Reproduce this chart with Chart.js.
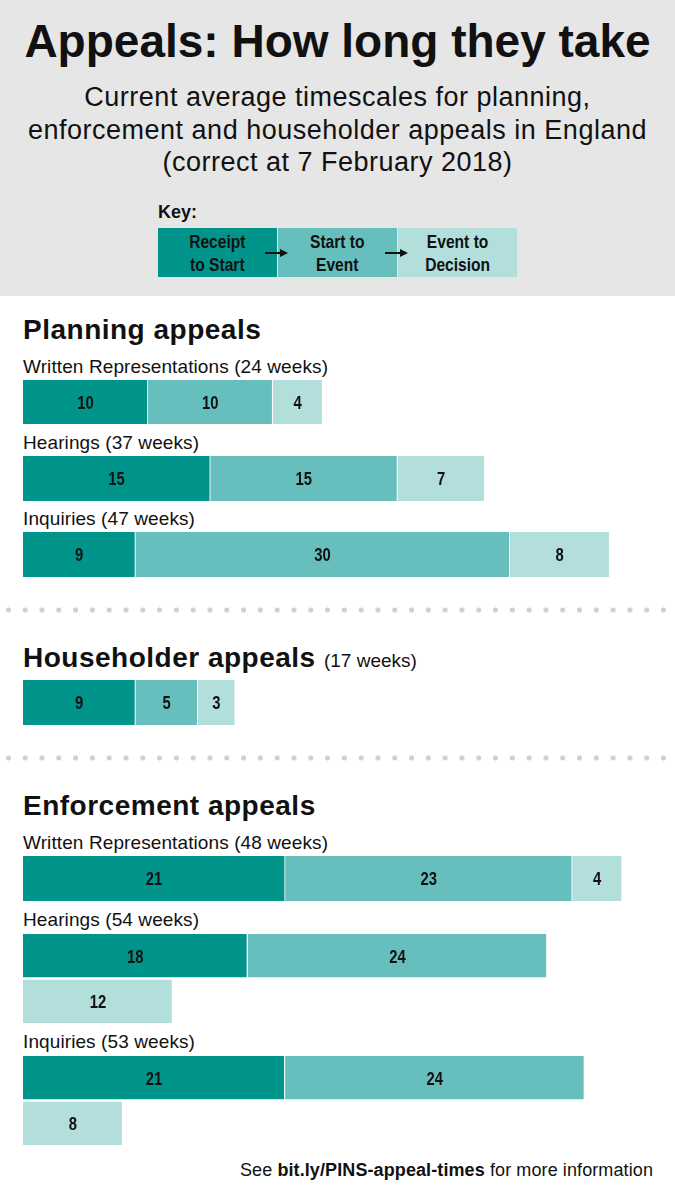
<!DOCTYPE html>
<html>
<head>
<meta charset="utf-8">
<script src="https://cdn.jsdelivr.net/npm/chart.js@4"></script>
<style>
  body { margin: 0; width: 675px; height: 1200px; background: #fff; position: relative; overflow: hidden;
         font-family: "Liberation Sans", Arial, sans-serif; color: #111; }
  .abs { position: absolute; white-space: nowrap; }
  #header { left: 0; top: 0; width: 675px; height: 296px; background: #e6e6e6; }
  #title { left: 0; width: 675px; top: 13px; text-align: center; font-weight: bold; font-size: 46px; line-height: 56px; }
  #subtitle { left: 0; width: 675px; top: 81px; text-align: center; font-size: 27px; line-height: 32.5px; letter-spacing: 0.5px; }
  #keylabel { left: 158px; top: 202px; font-weight: bold; font-size: 18px; line-height: 20px; }
  .key { top: 228px; height: 49px; width: 119px; display: flex; align-items: center; justify-content: center;
         text-align: center; font-weight: bold; font-size: 19px; line-height: 23px; }
  .key span { display: inline-block; transform: scaleX(0.82); }
  .arrow { top: 252px; width: 23px; height: 2px; z-index: 2; }
  .arrow::before { content: ""; position: absolute; left: 0; top: 0; width: 17px; height: 2px; background: #111; }
  .arrow::after { content: ""; position: absolute; right: 0; top: -3px; border-left: 8px solid #111;
                  border-top: 4px solid transparent; border-bottom: 4px solid transparent; }
  .h2 { left: 23px; font-weight: bold; font-size: 28px; line-height: 32px; letter-spacing: 0.5px; }
  .h2 span { font-weight: normal; font-size: 19px; letter-spacing: 0; }
  .lbl { left: 23px; font-size: 19px; line-height: 22px; letter-spacing: 0.1px; }
  .bar { left: 23px; width: 649px; }
  .dots { left: 0; width: 675px; height: 6px;
          background-image: radial-gradient(circle, #cfcfcf 2.3px, transparent 2.8px);
          background-size: 16.8px 6px; background-position: 0px 0; }
  #foot { right: 22px; top: 1159px; font-size: 18px; line-height: 22px; letter-spacing: 0.1px; }
</style>
</head>
<body>
<div id="header" class="abs"></div>
<div id="title" class="abs">Appeals: How long they take</div>
<div id="subtitle" class="abs">Current average timescales for planning,<br>enforcement and householder appeals in England<br>(correct at 7 February 2018)</div>
<div id="keylabel" class="abs">Key:</div>

<div class="abs h2" style="top:314px">Planning appeals</div>
<div class="abs lbl" id="l-pw" style="top:356px"></div>
<div class="abs bar" style="top:380px;height:44px"><canvas id="c-pw"></canvas></div>
<div class="abs lbl" id="l-ph" style="top:432px"></div>
<div class="abs bar" style="top:456px;height:45px"><canvas id="c-ph"></canvas></div>
<div class="abs lbl" id="l-pi" style="top:508px"></div>
<div class="abs bar" style="top:532px;height:45px"><canvas id="c-pi"></canvas></div>

<div class="abs dots" style="top:607px"></div>

<div class="abs h2" id="l-hh" style="top:642px"></div>
<div class="abs bar" style="top:680px;height:45px"><canvas id="c-hh"></canvas></div>

<div class="abs dots" style="top:755px"></div>

<div class="abs h2" style="top:790px">Enforcement appeals</div>
<div class="abs lbl" id="l-ew" style="top:832px"></div>
<div class="abs bar" style="top:856px;height:45px"><canvas id="c-ew"></canvas></div>
<div class="abs lbl" id="l-eh" style="top:909px"></div>
<div class="abs bar" style="top:933px;height:91px"><canvas id="c-eh"></canvas></div>
<div class="abs lbl" id="l-ei" style="top:1031px"></div>
<div class="abs bar" style="top:1055px;height:91px"><canvas id="c-ei"></canvas></div>

<div id="foot" class="abs">See <b>bit.ly/PINS-appeal-times</b> for more information</div>

<script>
// stages of an appeal, values in weeks
var stages = ['Receipt\nto Start', 'Start to\nEvent', 'Event to\nDecision'];
var stageColors = ['#00948a', '#66bfbc', '#b2dfdc'];

var planningWritten = [10, 10, 4];
var planningHearings = [15, 15, 7];
var planningInquiries = [9, 30, 8];
var householder = [9, 5, 3];
var enforcementWritten = [21, 23, 4];
var enforcementHearings = [18, 24, 12];
var enforcementInquiries = [21, 24, 8];

var maxWeeks = 52; // width of one row before it wraps

function total(arr) {
    return arr.reduce(function(a, b) { return a + b; }, 0);
}

// key boxes
var keyLeft = [158, 278, 398];
stages.forEach(function(s, i) {
    var d = document.createElement('div');
    d.className = 'abs key';
    d.style.left = keyLeft[i] + 'px';
    d.style.background = stageColors[i];
    d.innerHTML = '<span>' + s.replace('\n', '<br>') + '</span>';
    document.body.appendChild(d);
    if (i < stages.length - 1) {
        var a = document.createElement('div');
        a.className = 'abs arrow';
        a.style.left = (keyLeft[i] + 107) + 'px';
        document.body.appendChild(a);
    }
});

var barLabels = {
    id: 'barLabels',
    afterDatasetsDraw: function(chart) {
        var ctx = chart.ctx;
        chart.data.datasets.forEach(function(ds, i) {
            chart.getDatasetMeta(i).data.forEach(function(el, j) {
                var v = ds.data[j];
                if (!v) return;
                var p = el.getCenterPoint();
                ctx.save();
                ctx.font = 'bold 19px "Liberation Sans", Arial, sans-serif';
                ctx.fillStyle = '#111';
                ctx.textAlign = 'center';
                ctx.textBaseline = 'alphabetic';
                ctx.translate(p.x, p.y);
                ctx.scale(0.78, 1);
                ctx.fillText(v, 0, 6.8);
                ctx.restore();
            });
        });
    }
};

function drawBar(id, values) {
    // split into rows when the total runs past the row width
    var rows = [[]];
    var used = 0;
    values.forEach(function(v, i) {
        if (used + v > maxWeeks) { rows.push([]); used = 0; }
        rows[rows.length - 1].push(i);
        used += v;
    });
    var datasets = values.map(function(v, i) {
        return {
            label: stages[i],
            data: rows.map(function(r) { return r.indexOf(i) >= 0 ? v : null; }),
            backgroundColor: stageColors[i],
            borderColor: '#ffffff',
            borderWidth: {top: 0, bottom: 0, left: 0, right: 1},
            borderSkipped: false,
            barPercentage: rows.length > 1 ? 0.96 : 1,
            categoryPercentage: 1
        };
    });
    new Chart(document.getElementById(id), {
        type: 'bar',
        data: { labels: rows.map(function(r, i) { return 'row' + i; }), datasets: datasets },
        options: {
            indexAxis: 'y',
            responsive: true,
            maintainAspectRatio: false,
            animation: false,
            layout: { padding: 0 },
            plugins: { legend: { display: false }, tooltip: { enabled: false } },
            scales: {
                x: { stacked: true, min: 0, max: maxWeeks, display: false },
                y: { stacked: true, display: false }
            }
        },
        plugins: [barLabels]
    });
}

function setLabel(id, name, values) {
    document.getElementById(id).textContent = name + ' (' + total(values) + ' weeks)';
}

setLabel('l-pw', 'Written Representations', planningWritten);
setLabel('l-ph', 'Hearings', planningHearings);
setLabel('l-pi', 'Inquiries', planningInquiries);
document.getElementById('l-hh').innerHTML = 'Householder appeals <span>(' + total(householder) + ' weeks)</span>';
setLabel('l-ew', 'Written Representations', enforcementWritten);
setLabel('l-eh', 'Hearings', enforcementHearings);
setLabel('l-ei', 'Inquiries', enforcementInquiries);

drawBar('c-pw', planningWritten);
drawBar('c-ph', planningHearings);
drawBar('c-pi', planningInquiries);
drawBar('c-hh', householder);
drawBar('c-ew', enforcementWritten);
drawBar('c-eh', enforcementHearings);
drawBar('c-ei', enforcementInquiries);
</script>
</body>
</html>
